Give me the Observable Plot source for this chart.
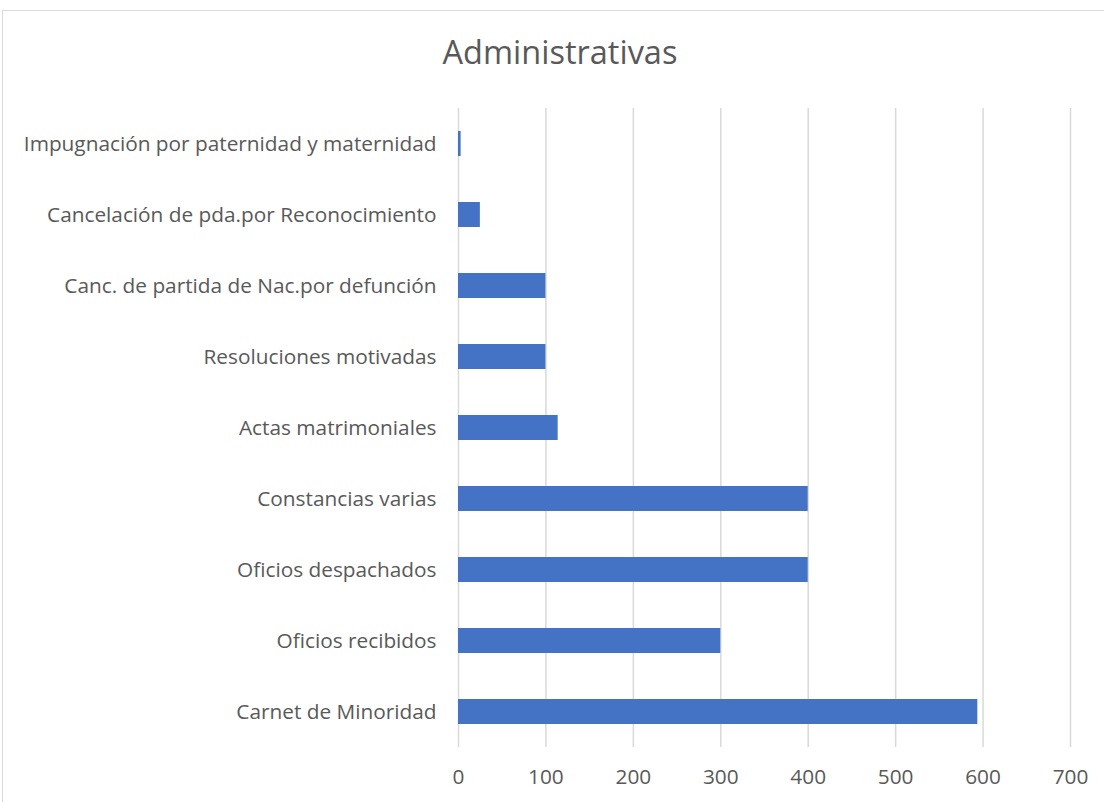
<!DOCTYPE html>
<html><head><meta charset="utf-8">
<script src="https://cdn.jsdelivr.net/npm/d3@7"></script>
<script src="https://cdn.jsdelivr.net/npm/@observablehq/plot@0.6"></script>
<style>
body{margin:0;background:#fff;}
#wrap{position:relative;width:1104px;height:802px;overflow:hidden;font-family:"Open Sans",sans-serif;}
#frame{position:absolute;left:2px;top:10px;width:1110px;height:800px;border:1.5px solid #d9d9d9;box-sizing:border-box;}
#title{position:absolute;left:0;width:1120px;top:29px;text-align:center;font-size:32.5px;font-weight:400;color:#595959;}
#chart{position:absolute;left:0;top:0;}
</style></head>
<body>
<div id="wrap"><div id="frame"></div><div id="title">Administrativas</div><div id="chart"></div></div>
<script>
const categories = ["Impugnación por paternidad y maternidad","Cancelación de pda.por Reconocimiento","Canc. de partida de Nac.por defunción","Resoluciones motivadas","Actas matrimoniales","Constancias varias","Oficios despachados","Oficios recibidos","Carnet de Minoridad"];
const values = [3, 25, 100, 100, 114, 400, 400, 300, 594];
const xTicks = [0,100,200,300,400,500,600,700];
const data = categories.map((c,i)=>({category:c, value:values[i]}));
const chart = Plot.plot({
  width:1104, height:802,
  marginLeft:458, marginRight:34, marginTop:108, marginBottom:55,
  style:{fontFamily:"'Open Sans', sans-serif", fontSize:"20.8px", color:"#595959", background:"transparent"},
  x:{domain:[0,700], ticks:xTicks, label:null, tickSize:0, tickPadding:22},
  y:{domain:categories, label:null, tickSize:0, tickPadding:22, paddingInner:0.65, paddingOuter:0.325},
  marks:[
    Plot.ruleX(xTicks,{stroke:"#d9d9d9", strokeWidth:1.5}),
    Plot.barX(data,{x:"value", y:"category", fill:"#4472c4"})
  ]
});
document.getElementById("chart").appendChild(chart);
</script>
</body></html>
